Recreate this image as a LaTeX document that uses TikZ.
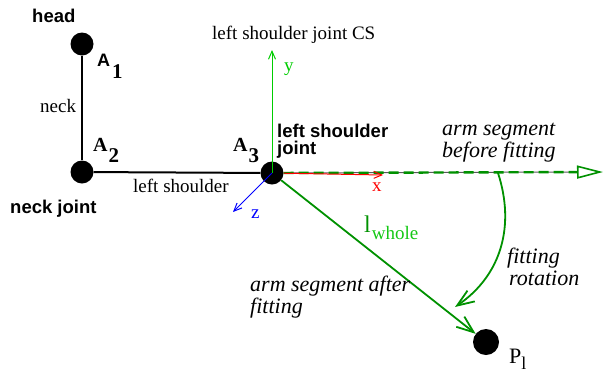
\documentclass[tikz,border=0pt]{standalone}
\usepackage{fontspec}
\setmainfont{Liberation Serif}
\setsansfont{Liberation Sans}
\usetikzlibrary{arrows.meta}
\definecolor{armgreen}{RGB}{0,145,0}
\definecolor{axgreen}{RGB}{0,205,0}
\definecolor{lightgreen}{RGB}{20,200,20}
\definecolor{dashgray}{RGB}{90,90,90}
\begin{document}
\begin{tikzpicture}[x=1pt,y=-1pt,
  dot/.style={circle,fill=black,inner sep=0pt,minimum size=23pt},
  serif/.style={font=\fontsize{19}{21}\selectfont,inner sep=0pt,anchor=base west},
  bsans/.style={font=\sffamily\bfseries\fontsize{18.5}{17}\selectfont,inner sep=0pt,align=left,anchor=base west},
  ital/.style={font=\itshape\fontsize{22}{22}\selectfont,inner sep=0pt,align=left,anchor=base west},
  bone/.style={line width=2pt},
  axis/.style={line width=1pt,-{Straight Barb[length=8pt,width=7pt]}},
  stick/.style={line width=1.8pt,-{Straight Barb[length=17pt,width=13pt,line width=1.8pt]}}
]
\useasboundingbox (0,0) rectangle (605,373);

% joints
\node[dot] (head) at (82,44) {};
\node[dot] (A2) at (82,172) {};
\node[dot] (A3) at (272,173) {};
\node[dot,minimum size=26pt] (Pl) at (486,342) {};

% bones
\draw[bone] (head) -- (A2);
\draw[bone] (A2) -- (A3);

% coordinates
\coordinate (dashend) at (603,172);
\coordinate (dashbase) at (577,172);
\coordinate (yend) at (272,50);
\coordinate (xend) at (383,175);
\coordinate (zend) at (233,212);
\coordinate (rotstart) at (498,173);
\coordinate (rotend) at (455,307);

% arm segment before fitting
\draw[dashgray,line width=1pt] (A3) -- (dashbase);
\draw[armgreen,line width=2.4pt,dash pattern=on 10pt off 5pt,
  -{Triangle[open,length=26pt,width=13pt,line width=1.6pt,fill=white]}] (A3) -- (dashend);

% coordinate system
\draw[axis,axgreen] (A3.center) -- (yend);
\draw[axis,red] (A3) -- (xend);
\draw[axis,blue] (A3.center) -- (zend);

% arm after fitting
\draw[stick,armgreen] (A3) -- (Pl);

% fitting rotation
\draw[stick,armgreen] (rotstart) .. controls (515,225) and (502,275) .. (rotend);

% labels
\node[bsans] (headlbl) at (32,22) {head};
\node[inner sep=0pt,anchor=base west] (A1lbl) at (97,66)
  {{\sffamily\bfseries\fontsize{18}{18}\selectfont A}\kern2pt\raisebox{-12pt}{\bfseries\fontsize{21}{21}\selectfont 1}};
\node[serif] (necklbl) at (40,112) {neck};
\node[inner sep=0pt,anchor=base west,font=\bfseries\fontsize{20}{20}\selectfont] (A2lbl) at (93,151)
  {A\kern1pt\raisebox{-11pt}{\fontsize{21}{21}\selectfont 2}};
\node[bsans] (neckjointlbl) at (10,213) {neck joint};
\node[serif] (lshlbl) at (133,192) {left shoulder};
\node[inner sep=0pt,anchor=base west,font=\bfseries\fontsize{20}{20}\selectfont] (A3lbl) at (233,151)
  {A\kern1pt\raisebox{-11pt}{\fontsize{21}{21}\selectfont 3}};
\node[bsans] (lsjlbl) at (277,154) {left shoulder\\joint};
\node[serif] (cslbl) at (212,39) {left shoulder joint CS};
\node[serif,text=axgreen] (ylbl) at (284,71) {y};
\node[serif,text=red] (xlbl) at (372,191) {x};
\node[serif,text=blue] (zlbl) at (251,218) {z};
\node[ital] (beforelbl) at (442,157) {arm segment\\before fitting};
\node[ital] (rotlbl) at (507,285) {fitting\\\kern2pt rotation};
\node[ital,font=\itshape\fontsize{22}{19}\selectfont] (afterlbl) at (250,313) {arm segment after\\fitting};
\node[inner sep=0pt,anchor=base west,text=armgreen,font=\fontsize{24}{24}\selectfont] (lwhole) at (364,232)
  {l\kern1pt\raisebox{-7pt}{\color{lightgreen}\fontsize{19}{19}\selectfont whole}};
\node[inner sep=0pt,anchor=base west,font=\fontsize{22}{22}\selectfont] (Pllbl) at (509,363)
  {P\raisebox{-6pt}{\fontsize{18}{18}\selectfont l}};
\end{tikzpicture}
\end{document}
